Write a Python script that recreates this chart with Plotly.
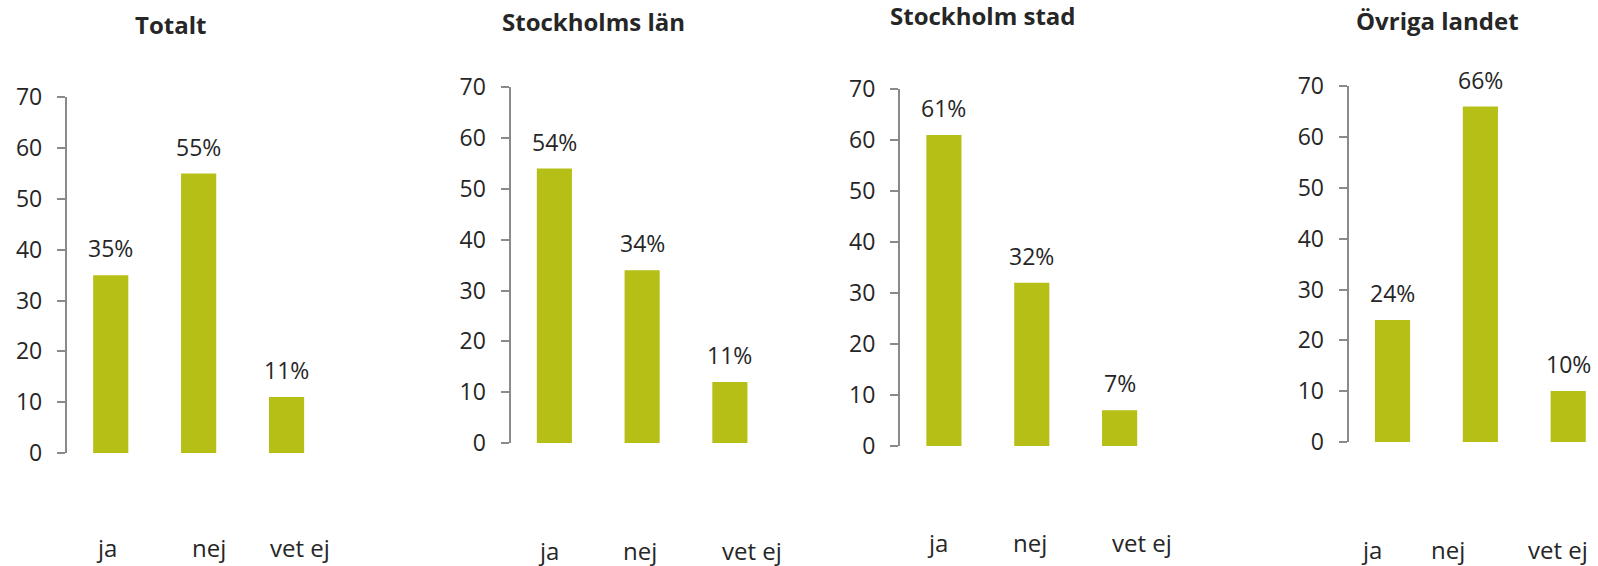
import plotly.graph_objects as go

# ---- data ----
categories = ["ja", "nej", "vet ej"]
panel_titles = ["Totalt", "Stockholms län", "Stockholm stad", "Övriga landet"]
totalt = [35, 55, 11]
stockholms_lan = [54, 34, 12]
stockholm_stad = [61, 32, 7]
ovriga_landet = [24, 66, 10]
totalt_labels = ["35%", "55%", "11%"]
stockholms_lan_labels = ["54%", "34%", "11%"]
stockholm_stad_labels = ["61%", "32%", "7%"]
ovriga_landet_labels = ["24%", "66%", "10%"]
y_ticks = [0, 10, 20, 30, 40, 50, 60, 70]

series = [totalt, stockholms_lan, stockholm_stad, ovriga_landet]
labels = [totalt_labels, stockholms_lan_labels, stockholm_stad_labels, ovriga_landet_labels]

# ---- layout / style (pixels in a 1598x566 canvas) ----
W, H = 1598, 566
BAR = "#b6bf15"
TXT = "#262626"
AX = "#8a8a8a"
FONT = "Open Sans"

panels = [
    dict(x0=66.8, unit=87.9, xend=2.5, ytop=97.3, ybot=453.0, tx=170.8, ty=24.5,
         cat_dy=-94.6, cat_dx=[-4.5, 10, 13]),
    dict(x0=510.5, unit=87.75, xend=2.5, ytop=87.3, ybot=442.9, tx=593.3, ty=21.0,
         cat_dy=-107.8, cat_dx=[-5.5, -2, 22]),
    dict(x0=900.0, unit=87.85, xend=2.5, ytop=89.0, ybot=446.0, tx=983.3, ty=15.3,
         cat_dy=-96.5, cat_dx=[-6.6, -1.4, 22.2]),
    dict(x0=1348.6, unit=87.85, xend=2.339, ytop=86.3, ybot=441.9, tx=1437.2, ty=20.0,
         cat_dy=-107.8, cat_dx=[-21.3, -32.7, -9.9]),
]

fig = go.Figure()
annotations = []
for i, (vals, labs, p, title) in enumerate(zip(series, labels, panels, panel_titles)):
    n = "" if i == 0 else str(i + 1)
    xa, ya = "x" + n, "y" + n
    fig.add_trace(go.Bar(
        x=list(range(len(categories))), y=vals, xaxis=xa, yaxis=ya,
        marker=dict(color=BAR, line=dict(width=0)), width=0.4,
        showlegend=False, hoverinfo="skip",
    ))
    x_end_px = p["x0"] + (p["xend"] + 0.5) * p["unit"]
    fig.layout["xaxis" + n] = dict(
        domain=[p["x0"] / W, min(x_end_px / W, 1.0)],
        range=[-0.5, p["xend"]], anchor=ya, automargin=False,
        showticklabels=False, showgrid=False, zeroline=False,
        showline=False, ticks="", fixedrange=True,
    )
    fig.layout["yaxis" + n] = dict(
        domain=[1 - p["ybot"] / H, 1 - p["ytop"] / H],
        range=[0, 70], anchor=xa, tickvals=y_ticks, automargin=False,
        showgrid=False, zeroline=False,
        showline=True, linecolor=AX, linewidth=2,
        ticks="outside", ticklen=8, tickwidth=2, tickcolor=AX,
        ticklabelstandoff=10,
        tickfont=dict(family=FONT, size=23, color=TXT),
        fixedrange=True,
    )
    for j, (v, t) in enumerate(zip(vals, labs)):
        annotations.append(dict(
            x=j, y=v, xref=xa, yref=ya, text=t, showarrow=False,
            yanchor="middle", xanchor="center", yshift=27,
            font=dict(family=FONT, size=23, color=TXT),
        ))
    for j, c in enumerate(categories):
        annotations.append(dict(
            x=j, y=0, xref=xa, yref=ya, text=c, showarrow=False,
            yanchor="middle", xanchor="center",
            yshift=p["cat_dy"], xshift=p["cat_dx"][j],
            font=dict(family=FONT, size=24, color=TXT),
        ))
    annotations.append(dict(
        x=p["tx"] / W, y=1 - p["ty"] / H, xref="paper", yref="paper",
        text="<b>" + title + "</b>", showarrow=False,
        xanchor="center", yanchor="middle",
        font=dict(family=FONT, size=24, color=TXT),
    ))

fig.update_layout(
    template="none",
    width=W, height=H, autosize=False,
    margin=dict(l=0, r=0, t=0, b=0, pad=0, autoexpand=False),
    paper_bgcolor="white", plot_bgcolor="white",
    font=dict(family=FONT, color=TXT),
    annotations=annotations,
    bargap=0.6,
    showlegend=False,
)

fig.write_html(
    "out.html",
    config={"displayModeBar": False},
    post_script="document.body.style.margin='0';document.body.style.overflow='hidden';",
)
